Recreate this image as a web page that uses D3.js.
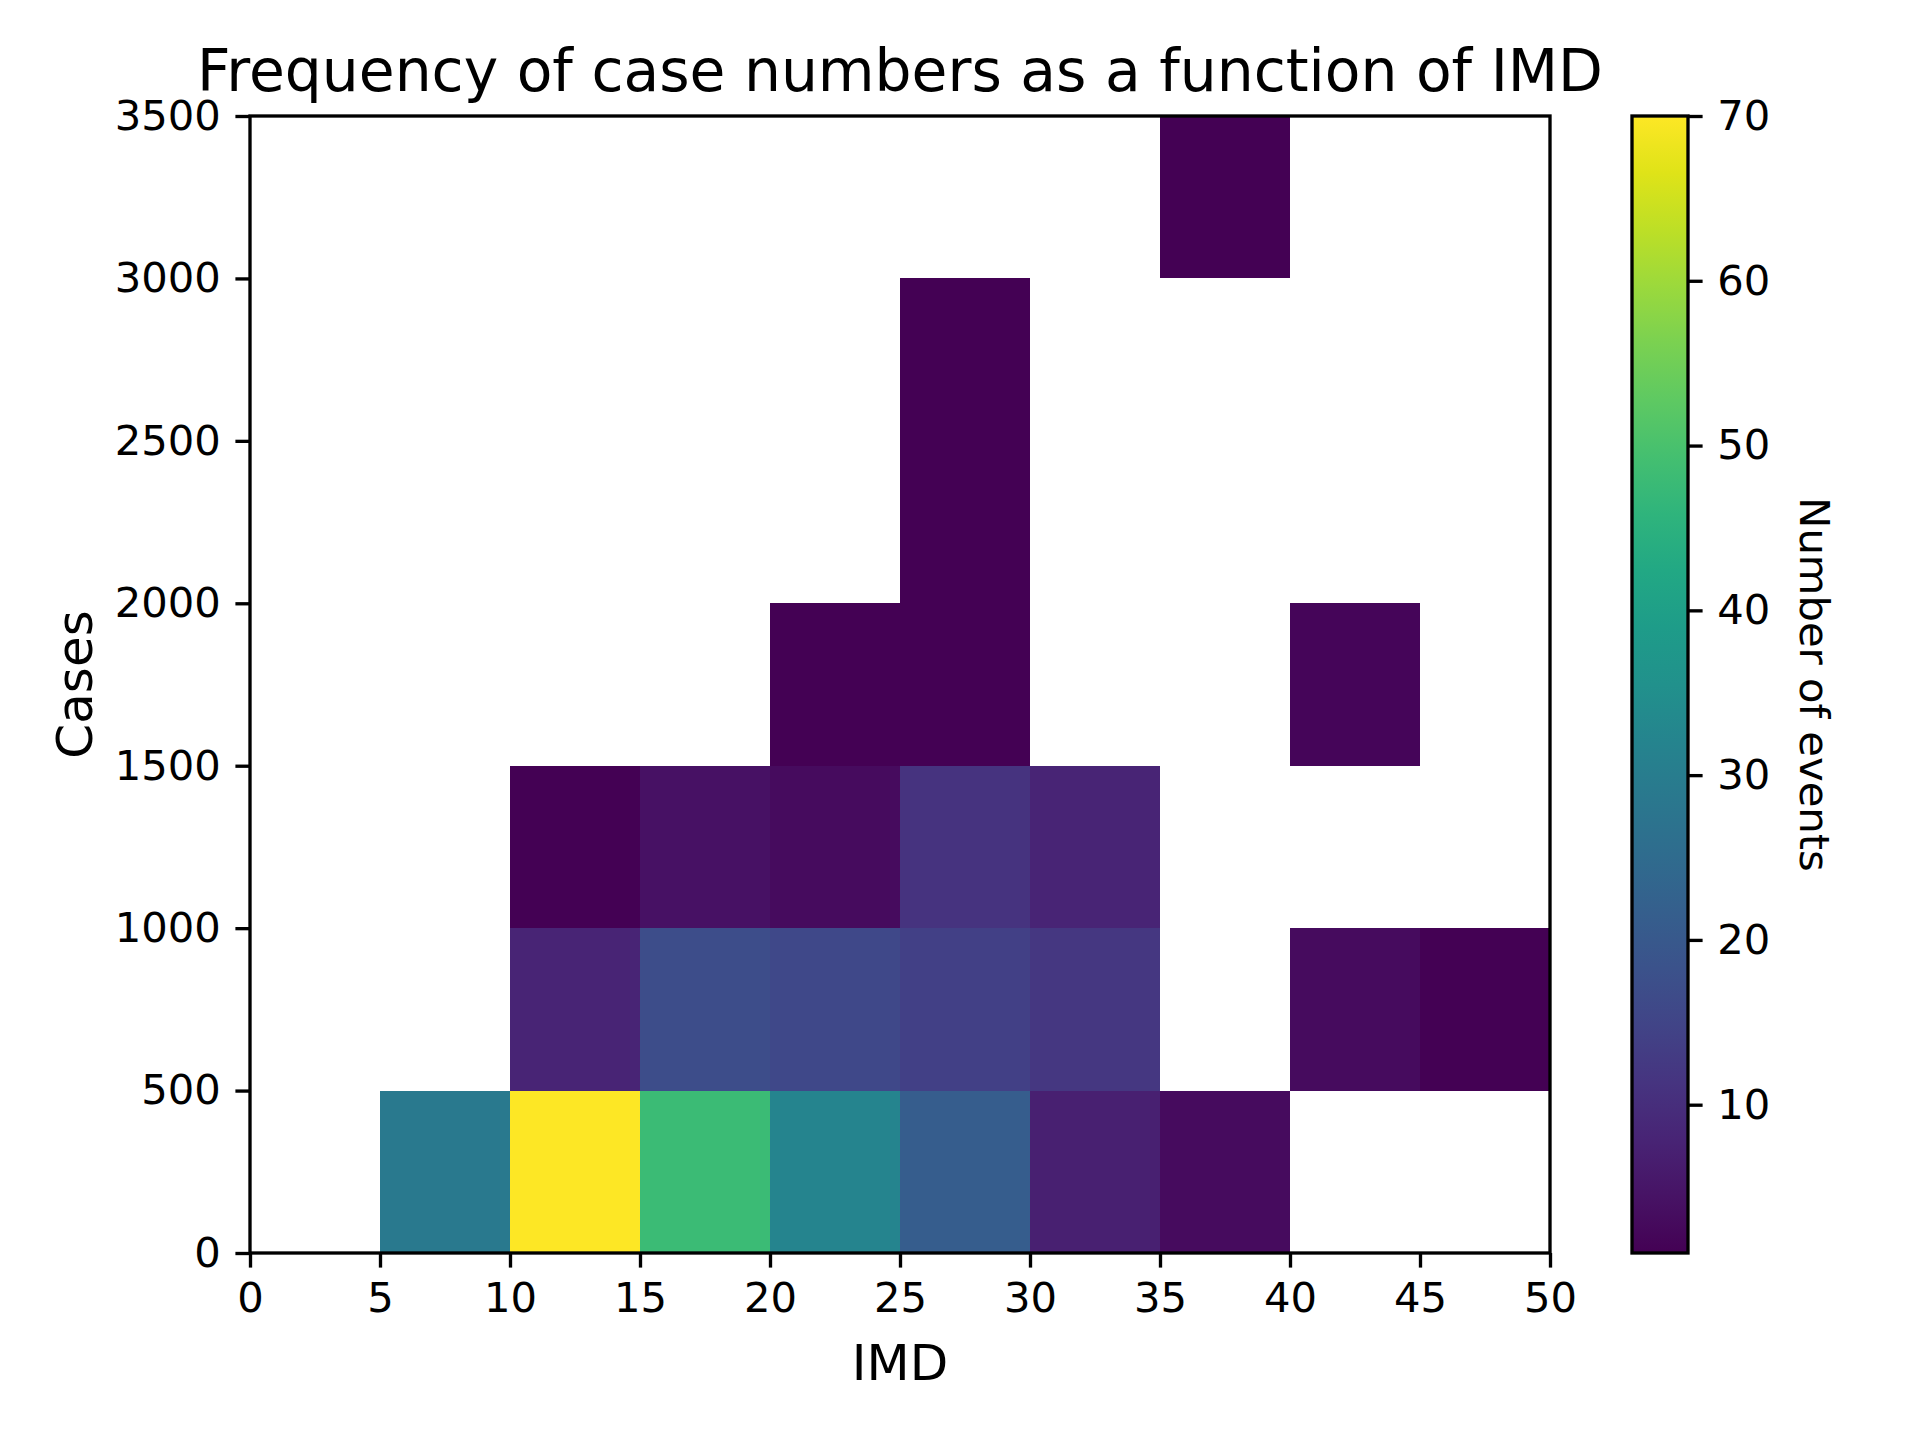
<!DOCTYPE html>
<html>
<head>
<meta charset="utf-8">
<script src="https://cdn.jsdelivr.net/npm/d3@7"></script>
<style>
  body { margin: 0; background: #fff; }
  text { font-family: "DejaVu Sans", sans-serif; fill: #000; }
</style>
</head>
<body>
<svg id="chart" width="1920" height="1440"></svg>
<script>
// bin edges of the 2d histogram
var imdEdges = [0, 5, 10, 15, 20, 25, 30, 35, 40, 45, 50]
var caseEdges = [0, 500, 1000, 1500, 2000, 2500, 3000, 3500]

// counts per case bin (bottom row first), one value per IMD bin; 0 = empty
var counts0 = [0, 29, 70, 48, 32, 21, 7, 3, 0, 0]
var counts500 = [0, 0, 8, 17, 16, 14, 12, 0, 3, 1]
var counts1000 = [0, 0, 1, 4, 3, 11, 8, 0, 0, 0]
var counts1500 = [0, 0, 0, 0, 1, 1, 0, 0, 2, 0]
var counts2000 = [0, 0, 0, 0, 0, 1, 0, 0, 0, 0]
var counts2500 = [0, 0, 0, 0, 0, 1, 0, 0, 0, 0]
var counts3000 = [0, 0, 0, 0, 0, 0, 0, 1, 0, 0]
var countRows = [counts0, counts500, counts1000, counts1500, counts2000, counts2500, counts3000]

var imdTicks = [0, 5, 10, 15, 20, 25, 30, 35, 40, 45, 50]
var caseTicks = [0, 500, 1000, 1500, 2000, 2500, 3000, 3500]
var colorTicks = [10, 20, 30, 40, 50, 60, 70]
var colorRange = [1, 70]

var svg = d3.select('#chart')

// plot area (pixels), measured off the figure
// (window.top is read-only, so no plain "top" here)
var pLeft = 250, pRight = 1550, pTop = 116, pBottom = 1253
var cbLeft = 1632, cbRight = 1688
var tick = 14.6, lw = 3.33

var x = d3.scaleLinear().domain([0, 50]).range([pLeft, pRight])
var y = d3.scaleLinear().domain([0, 3500]).range([pBottom, pTop])
var color = d3.scaleSequential(d3.interpolateViridis).domain(colorRange)

// flatten the rows into cells
var cells = []
countRows.forEach(function(row, j) {
  row.forEach(function(v, i) {
    if (v > 0) cells.push({x0: imdEdges[i], x1: imdEdges[i + 1], y0: caseEdges[j], y1: caseEdges[j + 1], v: v})
  })
})

svg.append('g')
  .selectAll('rect')
  .data(cells)
  .join('rect')
  .attr('x', d => x(d.x0))
  .attr('y', d => y(d.y1))
  .attr('width', d => x(d.x1) - x(d.x0))
  .attr('height', d => y(d.y0) - y(d.y1))
  .attr('fill', d => color(d.v))
  .attr('shape-rendering', 'crispEdges')

function styleAxis(g) {
  g.select('.domain').remove()
  g.selectAll('.tick line').attr('stroke', '#000').attr('stroke-width', lw)
  g.selectAll('.tick text').style('font-size', '41.7px').attr('fill', '#000')
}

svg.append('g')
  .attr('transform', 'translate(0,' + pBottom + ')')
  .call(d3.axisBottom(x).tickValues(imdTicks).tickSize(tick).tickPadding(tick).tickFormat(d3.format('d')))
  .call(styleAxis)

svg.append('g')
  .attr('transform', 'translate(' + pLeft + ',0)')
  .call(d3.axisLeft(y).tickValues(caseTicks).tickSize(tick).tickPadding(tick).tickFormat(d3.format('d')))
  .call(styleAxis)

// frame
svg.append('rect')
  .attr('x', pLeft).attr('y', pTop)
  .attr('width', pRight - pLeft).attr('height', pBottom - pTop)
  .attr('fill', 'none').attr('stroke', '#000').attr('stroke-width', lw)

// colorbar
var cy = d3.scaleLinear().domain(colorRange).range([pBottom, pTop])
var grad = svg.append('defs').append('linearGradient')
  .attr('id', 'viridis').attr('x1', 0).attr('y1', 1).attr('x2', 0).attr('y2', 0)
grad.selectAll('stop')
  .data(d3.range(0, 1.0001, 0.05))
  .join('stop')
  .attr('offset', d => d)
  .attr('stop-color', d => d3.interpolateViridis(d))

svg.append('rect')
  .attr('x', cbLeft).attr('y', pTop)
  .attr('width', cbRight - cbLeft).attr('height', pBottom - pTop)
  .attr('fill', 'url(#viridis)')
  .attr('stroke', '#000').attr('stroke-width', lw)

svg.append('g')
  .attr('transform', 'translate(' + cbRight + ',0)')
  .call(d3.axisRight(cy).tickValues(colorTicks).tickSize(tick).tickPadding(tick))
  .call(styleAxis)

// texts
svg.append('text')
  .attr('x', (pLeft + pRight) / 2).attr('y', 91)
  .attr('text-anchor', 'middle')
  .style('font-size', '58.3px')
  .text('Frequency of case numbers as a function of IMD')

svg.append('text')
  .attr('x', (pLeft + pRight) / 2).attr('y', 1380)
  .attr('text-anchor', 'middle')
  .style('font-size', '50px')
  .text('IMD')

svg.append('text')
  .attr('transform', 'translate(92,' + (pTop + pBottom) / 2 + ') rotate(-90)')
  .attr('text-anchor', 'middle')
  .style('font-size', '50px')
  .text('Cases')

svg.append('text')
  .attr('transform', 'translate(1800,' + (pTop + pBottom) / 2 + ') rotate(90)')
  .attr('text-anchor', 'middle')
  .style('font-size', '41.7px')
  .text('Number of events')
</script>
</body>
</html>
